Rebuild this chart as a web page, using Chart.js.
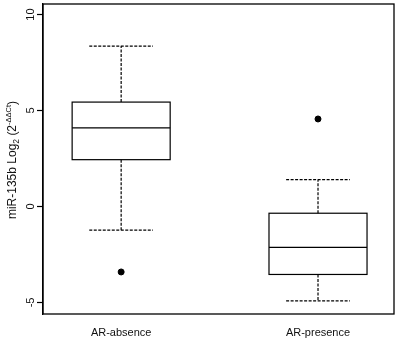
<!DOCTYPE html>
<html lang="en">
<head>
  <meta charset="UTF-8">
  <title>miR-135b boxplot</title>
  <style>
    body { margin: 0; padding: 0; background: #fff; }
    #wrap { width: 398px; height: 340px; }
  </style>
  <script src="https://cdn.jsdelivr.net/npm/chart.js"></script>
</head>
<body>
  <div id="wrap"><canvas id="box-chart" width="398" height="340"></canvas></div>
  <script>
    // Values
    const categories = ['AR-absence', 'AR-presence'];
    const whiskerLow = [-1.23, -4.92];
    const q1 = [2.44, -3.54];
    const median = [4.10, -2.13];
    const q3 = [5.44, -0.35];
    const whiskerHigh = [8.36, 1.40];
    const outlierGroup = [1, 2];
    const outlierValue = [-3.41, 4.56];
    const yTicks = [-5, 0, 5, 10];

    const FONT = "'Liberation Sans', Arial, sans-serif";
    const BOX_HALF = 0.249;
    const CAP_HALF = 0.162;

    // boxes, whiskers and frame, drawn through the chart scales
    const boxPlugin = {
      id: 'boxes',
      afterDatasetsDraw(chart) {
        const { ctx, chartArea, scales: { x, y } } = chart;
        ctx.save();
        ctx.strokeStyle = '#000';
        ctx.lineWidth = 1.2;
        categories.forEach((cat, i) => {
          const xc = x.getPixelForValue(i + 1);
          const xl = x.getPixelForValue(i + 1 - BOX_HALF);
          const xr = x.getPixelForValue(i + 1 + BOX_HALF);
          const cl = x.getPixelForValue(i + 1 - CAP_HALF);
          const cr = x.getPixelForValue(i + 1 + CAP_HALF);
          const yq1 = y.getPixelForValue(q1[i]);
          const yq3 = y.getPixelForValue(q3[i]);
          const ymed = y.getPixelForValue(median[i]);
          const ylo = y.getPixelForValue(whiskerLow[i]);
          const yhi = y.getPixelForValue(whiskerHigh[i]);

          // dashed whiskers and caps
          ctx.setLineDash([3, 1.5]);
          ctx.beginPath();
          ctx.moveTo(xc, yq3); ctx.lineTo(xc, yhi);
          ctx.moveTo(xc, yq1); ctx.lineTo(xc, ylo);
          ctx.moveTo(cl, yhi); ctx.lineTo(cr, yhi);
          ctx.moveTo(cl, ylo); ctx.lineTo(cr, ylo);
          ctx.stroke();

          // box and median
          ctx.setLineDash([]);
          ctx.strokeRect(xl, yq3, xr - xl, yq1 - yq3);
          ctx.beginPath();
          ctx.moveTo(xl, ymed); ctx.lineTo(xr, ymed);
          ctx.stroke();
        });
        // frame round the plot
        ctx.lineWidth = 1.3;
        ctx.strokeRect(chartArea.left, chartArea.top,
          chartArea.right - chartArea.left, chartArea.bottom - chartArea.top);
        ctx.restore();
      }
    };

    // y axis title with subscript and superscript
    const titlePlugin = {
      id: 'ytitle',
      afterDraw(chart) {
        const { ctx, chartArea } = chart;
        const parts = [
          { t: 'miR-135b Log', size: 12, dy: 0 },
          { t: '2', size: 8.5, dy: 3 },
          { t: ' (2', size: 12, dy: 0 },
          { t: '-\u0394\u0394Ct', size: 7.5, dy: -5 },
          { t: ')', size: 12, dy: 0 }
        ];
        ctx.save();
        let total = 0;
        parts.forEach(p => { ctx.font = p.size + 'px ' + FONT; p.w = ctx.measureText(p.t).width; total += p.w; });
        ctx.translate(16, (chartArea.top + chartArea.bottom) / 2 + 1);
        ctx.rotate(-Math.PI / 2);
        ctx.fillStyle = '#111';
        ctx.textBaseline = 'alphabetic';
        ctx.textAlign = 'left';
        let pos = -total / 2;
        parts.forEach(p => {
          ctx.font = p.size + 'px ' + FONT;
          ctx.fillText(p.t, pos, p.dy);
          pos += p.w;
        });
        ctx.restore();
      }
    };

    new Chart(document.getElementById('box-chart'), {
      type: 'scatter',
      data: {
        datasets: [{
          label: 'outliers',
          data: outlierGroup.map((g, i) => ({ x: g, y: outlierValue[i] })),
          backgroundColor: '#000',
          borderColor: '#000',
          pointRadius: 3,
          pointHoverRadius: 3
        }]
      },
      options: {
        responsive: false,
        animation: false,
        events: [],
        layout: { padding: { top: 2.5, right: 4, left: 0, bottom: 0 } },
        plugins: { legend: { display: false }, tooltip: { enabled: false } },
        scales: {
          x: {
            type: 'linear',
            min: 0.603,
            max: 2.386,
            afterBuildTicks: s => { s.ticks = categories.map((c, i) => ({ value: i + 1 })); },
            afterFit: s => { s.height = 26; s.paddingLeft = 0; s.paddingRight = 0; },
            grid: { display: false, drawTicks: false },
            border: { display: false },
            ticks: {
              padding: 12,
              color: '#111',
              font: { family: FONT, size: 11 },
              callback: v => categories[v - 1]
            }
          },
          y: {
            min: -5.6,
            max: 10.55,
            afterBuildTicks: s => { s.ticks = yTicks.map(v => ({ value: v })); },
            afterFit: s => { s.width = 43; s.paddingTop = 0; s.paddingBottom = 0; },
            grid: { drawOnChartArea: false, drawTicks: true, tickLength: 6, color: '#000', tickWidth: 1.2 },
            border: { display: true, color: '#000', width: 1.3 },
            ticks: {
              padding: 0,
              minRotation: 90,
              maxRotation: 90,
              crossAlign: 'center',
              color: '#111',
              font: { family: FONT, size: 11 }
            }
          }
        }
      },
      plugins: [boxPlugin, titlePlugin]
    });
  </script>
</body>
</html>
